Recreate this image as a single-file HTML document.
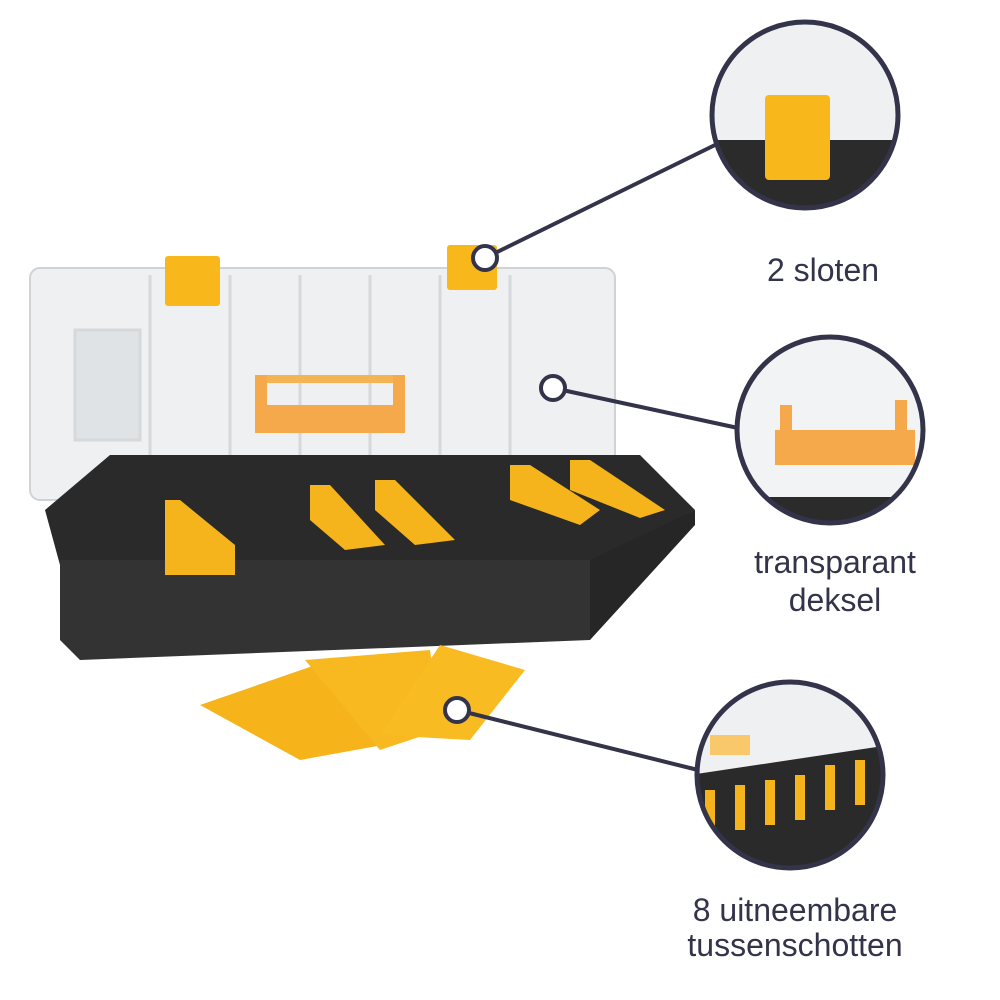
<!DOCTYPE html>
<html><head><meta charset="utf-8"><style>
html,body{margin:0;padding:0;background:#fff;}
svg{display:block}
text{font-family:"Liberation Sans",sans-serif;fill:#33334a;font-size:32px;text-anchor:middle}
</style></head><body>
<svg width="1000" height="1000" viewBox="0 0 1000 1000">
<defs>
<clipPath id="c1"><circle cx="805" cy="115" r="92"/></clipPath>
<clipPath id="c2"><circle cx="830" cy="430" r="92"/></clipPath>
<clipPath id="c3"><circle cx="790" cy="775" r="92"/></clipPath>
</defs>
<rect x="30" y="268" width="585" height="232" rx="10" fill="#eef0f1" stroke="#cfd3d6" stroke-width="2"/>
<g stroke="#d6d9db" stroke-width="3" fill="none">
<line x1="150" y1="275" x2="150" y2="490"/><line x1="230" y1="275" x2="230" y2="490"/>
<line x1="300" y1="275" x2="300" y2="490"/><line x1="370" y1="275" x2="370" y2="490"/>
<line x1="440" y1="275" x2="440" y2="490"/><line x1="510" y1="275" x2="510" y2="490"/>
<rect x="75" y="330" width="65" height="110" fill="#e0e3e5"/>
</g>
<rect x="255" y="375" width="150" height="8" fill="#f5b454"/>
<rect x="255" y="405" width="150" height="28" fill="#f6a94a"/>
<rect x="255" y="375" width="12" height="58" fill="#f6a94a"/><rect x="393" y="375" width="12" height="58" fill="#f6a94a"/>
<rect x="165" y="256" width="55" height="50" rx="3" fill="#f8b81c"/>
<rect x="447" y="245" width="50" height="45" rx="3" fill="#f8b81c"/>
<polygon points="45,510 110,455 640,455 695,510 590,565 60,565" fill="#2a2a2b"/>
<polygon points="60,560 590,560 590,640 80,660 60,640" fill="#333334"/>
<polygon points="590,560 695,510 695,525 590,640" fill="#262627"/>
<g fill="#f5b41b">
<polygon points="165,500 180,500 235,545 235,575 165,575"/>
<polygon points="310,485 330,485 385,545 345,550 310,520"/>
<polygon points="375,480 395,480 455,540 415,545 375,510"/>
<polygon points="510,465 530,465 600,510 580,525 510,500"/>
<polygon points="570,460 590,460 665,510 640,518 570,490"/>
</g>
<polygon points="200,705 330,660 410,740 300,760" fill="#f6b31a"/>
<polygon points="305,660 430,650 440,730 380,750" fill="#f8b820"/>
<polygon points="380,735 440,645 525,670 470,740" fill="#f9bb22"/>
<g stroke="#33334a" stroke-width="4" fill="#fff">
<line x1="485" y1="258" x2="715" y2="145"/>
<line x1="553" y1="388" x2="738" y2="428"/>
<line x1="457" y1="710" x2="698" y2="770"/>
<circle cx="485" cy="258" r="12"/><circle cx="553" cy="388" r="12"/><circle cx="457" cy="710" r="12"/>
</g>
<g clip-path="url(#c1)">
<rect x="700" y="10" width="210" height="210" fill="#eef0f1"/>
<rect x="700" y="140" width="210" height="90" fill="#2b2b2c"/>
<rect x="765" y="95" width="65" height="85" rx="4" fill="#f8b81c"/>
</g>
<circle cx="805" cy="115" r="93" fill="none" stroke="#33334a" stroke-width="5"/>
<g clip-path="url(#c2)">
<rect x="730" y="330" width="210" height="210" fill="#f2f3f4"/>
<rect x="730" y="497" width="210" height="50" fill="#2b2b2c"/>
<rect x="775" y="430" width="140" height="35" fill="#f6a94a"/>
<rect x="780" y="405" width="12" height="30" fill="#f6a94a"/><rect x="895" y="400" width="12" height="35" fill="#f6a94a"/>
</g>
<circle cx="830" cy="430" r="93" fill="none" stroke="#33334a" stroke-width="5"/>
<g clip-path="url(#c3)">
<rect x="690" y="675" width="210" height="210" fill="#eef0f1"/>
<polygon points="690,775 890,745 890,885 690,885" fill="#2a2a2b"/>
<g fill="#f5b41b">
<rect x="705" y="790" width="10" height="45"/><rect x="735" y="785" width="10" height="45"/>
<rect x="765" y="780" width="10" height="45"/><rect x="795" y="775" width="10" height="45"/>
<rect x="825" y="765" width="10" height="45"/><rect x="855" y="760" width="10" height="45"/>
</g>
<rect x="710" y="735" width="40" height="20" fill="#f8c86a"/>
</g>
<circle cx="790" cy="775" r="93" fill="none" stroke="#33334a" stroke-width="5"/>
<text x="823" y="281">2 sloten</text>
<text x="835" y="573">transparant</text>
<text x="835" y="611">deksel</text>
<text x="795" y="921">8 uitneembare</text>
<text x="795" y="956">tussenschotten</text>
</svg>
</body></html>
